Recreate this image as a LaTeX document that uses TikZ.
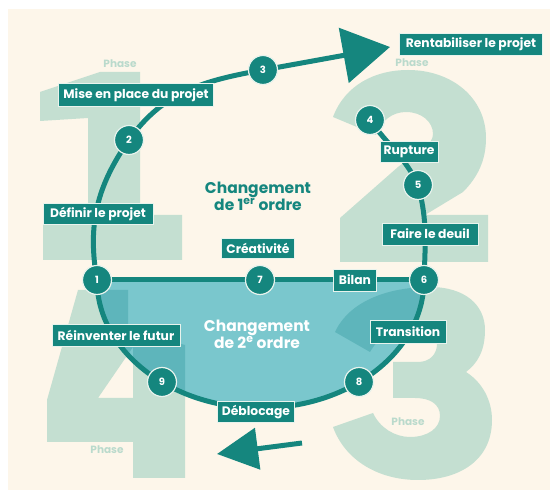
\documentclass[tikz,border=0pt]{standalone}
\usepackage{fontspec}
\newfontfamily\lab{Poppins}
\usetikzlibrary{arrows.meta}
\definecolor{cream}{RGB}{253,246,234}
\definecolor{sage}{RGB}{196,223,209}
\definecolor{sageT}{RGB}{186,218,204}
\definecolor{tealD}{RGB}{21,134,126}
\definecolor{lteal}{RGB}{122,199,205}
\definecolor{overC}{RGB}{94,181,187}
\definecolor{edgeC}{RGB}{232,243,237}
\tikzset{
  digone/.style={insert path={(40,398) -- (100,418) -- (140,418) -- (140,275) -- (182,275) -- (182,230) -- (43,230) -- (43,275) -- (88,275) -- (88,372) -- (40,369) -- cycle}},
  digtwo/.style={insert path={(333,373) .. controls (345,405) and (375,420) .. (408,420)
    .. controls (452,420) and (486,392) .. (486,352)
    .. controls (486,330) and (478,313) .. (463,298)
    -- (425,275) -- (488,275) -- (488,228) -- (340,228) -- (340,272) -- (398,323)
    .. controls (420,340) and (433,345) .. (433,356)
    .. controls (433,368) and (422,378) .. (406,378)
    .. controls (392,378) and (381,369) .. (376,355) -- cycle}},
  digthree/.style={insert path={(335,158) .. controls (350,190) and (390,203) .. (430,203)
    .. controls (465,203) and (485,185) .. (485,160)
    .. controls (485,140) and (478,127) .. (466,118)
    .. controls (482,108) and (492,90) .. (492,70)
    .. controls (492,30) and (460,10) .. (418,10)
    .. controls (378,10) and (345,30) .. (333,63)
    -- (373,77)
    .. controls (380,62) and (395,53) .. (410,53)
    .. controls (428,53) and (440,62) .. (440,74)
    .. controls (440,86) and (430,92) .. (415,92)
    -- (393,92) -- (393,128) -- (418,128)
    .. controls (430,128) and (437,136) .. (437,146)
    .. controls (437,158) and (428,166) .. (415,166)
    .. controls (395,166) and (380,155) .. (370,138) -- cycle}},
  digfour/.style={insert path={(78,200) -- (128,200) -- (128,160) -- (185,145) -- (185,12) -- (133,12) -- (133,48) -- (47,48) -- (47,90) -- cycle
    (98,92) -- (133,92) -- (133,143) -- cycle}},
}
\begin{document}
\begin{tikzpicture}[x=1pt,y=1pt,
  conn/.style={draw=tealD,line width=5pt},
  num/.style={circle,fill=tealD,draw=edgeC,line width=1.2pt,minimum size=29pt,inner sep=0pt,text=white,font=\lab\bfseries\fontsize{10}{10}\selectfont},
  lbl/.style={rectangle,fill=tealD,draw=edgeC,line width=0.9pt,minimum height=22pt,inner sep=0pt,text=white,font=\lab\bfseries\fontsize{12.3}{12.5}\selectfont},
  phase/.style={text=sageT,font=\lab\bfseries\fontsize{10.5}{10.5}\selectfont},
  big/.style={align=center,font=\lab\bfseries\fontsize{15.5}{17}\selectfont}
]
\useasboundingbox (0,0) rectangle (550,490);
\fill[white] (0,0) rectangle (550,490);
\fill[cream] (8,0) rectangle (550,481);
% big digits
\fill[sage] [digone];
\fill[sage] [digtwo];
\fill[sage] [digthree];
\fill[sage,even odd rule] [digfour];
\node[phase] (ph1) at (120,426) {Phase};
\node[phase] (ph2) at (412,427) {Phase};
\node[phase] (ph3) at (408,68) {Phase};
\node[phase] (ph4) at (107,40) {Phase};
% positions
\coordinate (p1) at (97,210);
\coordinate (p2) at (129,350);
\coordinate (p3) at (263,420);
\coordinate (p4) at (370,370);
\coordinate (p5) at (418,305);
\coordinate (p6) at (424,210);
\coordinate (p7) at (260,210);
\coordinate (p8) at (359,108);
\coordinate (p9) at (162,108);
\coordinate (tipT) at (390,443);
\coordinate (bS) at (302,47);
\coordinate (bT) at (217,36);
% second order region
\fill[lteal] (p1) -- (p6) arc[start angle=0,end angle=-180,x radius=163.5,y radius=128] -- cycle;
\begin{scope}
\clip (p1) -- (p6) arc[start angle=0,end angle=-180,x radius=163.5,y radius=128] -- cycle;
\fill[overC] [digthree];
\fill[overC,even odd rule] [digfour];
\end{scope}
% connectors
\draw[conn] (p1) to[out=100,in=235] (p2);
\draw[conn] (p2) to[out=55,in=190] (p3);
\draw[conn,-{Triangle[length=47pt,width=55pt]}] (p3) -- (tipT);
\draw[conn] (p4) to[out=-55,in=115] (p5);
\draw[conn] (p5) to[out=-75,in=88] (p6);
\draw[conn] (p6) arc[start angle=0,end angle=-180,x radius=163.5,y radius=128];
\draw[conn] (p1) -- (p6);
\draw[conn,-{Triangle[length=41pt,width=41pt]}] (bS) -- (bT);
% numbered circles
\node[num] (n1) at (p1) {1};
\node[num] (n2) at (p2) {2};
\node[num] (n3) at (p3) {3};
\node[num] (n4) at (p4) {4};
\node[num] (n5) at (p5) {5};
\node[num] (n6) at (p6) {6};
\node[num] (n7) at (p7) {7};
\node[num] (n8) at (p8) {8};
\node[num] (n9) at (p9) {9};
% labels
\node[lbl,minimum width=143pt] (lrent) at (471,446) {Rentabiliser le projet};
\node[lbl,minimum width=155pt,minimum height=23pt] (lmise) at (136,395) {Mise en place du projet};
\node[lbl,minimum width=110pt,minimum height=21pt] (ldef) at (98,276) {Définir le projet};
\node[lbl,minimum width=58pt,minimum height=21pt] (lrup) at (409,338) {Rupture};
\node[lbl,minimum width=96pt] (ldeuil) at (430,256) {Faire le deuil};
\node[lbl,minimum width=73pt,minimum height=20pt] (lcrea) at (258,242) {Créativité};
\node[lbl,minimum width=43pt] (lbilan) at (355,210) {Bilan};
\node[lbl,minimum width=76pt,minimum height=23pt] (ltrans) at (408,158) {Transition};
\node[lbl,minimum width=128pt] (lrein) at (116,155) {Réinventer le futur};
\node[lbl,minimum width=77pt,minimum height=21pt] (ldeb) at (256,78) {Déblocage};
% centre texts
\node[big,text=tealD] (first) at (258,294) {Changement\\de 1\textsuperscript{er} ordre};
\node[big,text=white] (second) at (257,156) {Changement\\de 2\textsuperscript{e} ordre};
\end{tikzpicture}
\end{document}
